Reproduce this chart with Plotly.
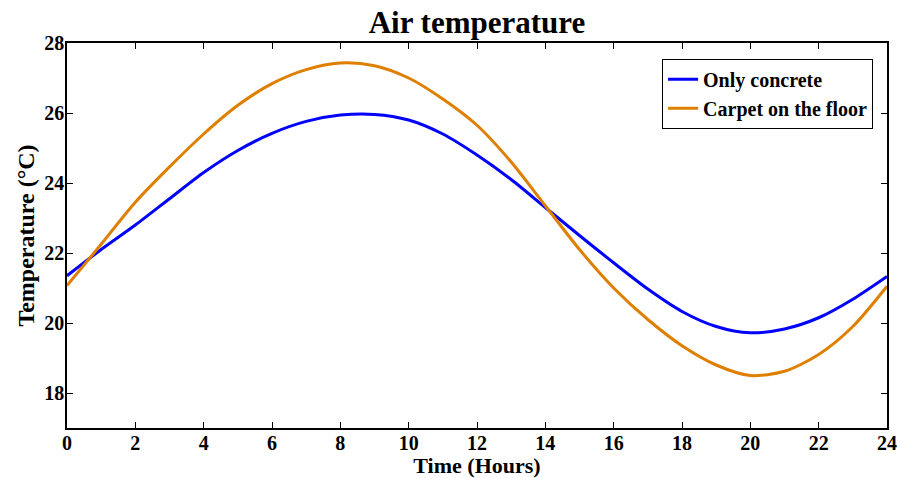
import plotly.graph_objects as go

hours = list(range(0, 25))
only_concrete = [21.35, 22.10, 22.80, 23.55, 24.30, 24.93, 25.42, 25.76, 25.94, 25.96,
                 25.80, 25.40, 24.80, 24.10, 23.30, 22.50, 21.72, 20.97, 20.33, 19.90,
                 19.72, 19.83, 20.15, 20.68, 21.33]
carpet_floor = [21.07, 22.25, 23.45, 24.46, 25.40, 26.22, 26.84, 27.24, 27.43, 27.35,
                27.00, 26.40, 25.65, 24.60, 23.35, 22.10, 21.00, 20.10, 19.35, 18.80,
                18.50, 18.62, 19.10, 19.90, 21.05]
x_ticks = list(range(0, 25, 2))
y_ticks = list(range(18, 29, 2))

font_family = "Liberation Serif"

fig = go.Figure()
fig.add_trace(go.Scatter(x=hours, y=only_concrete, mode="lines", name="Only concrete",
                         line=dict(color="#0000FF", width=3, shape="spline", smoothing=0.8)))
fig.add_trace(go.Scatter(x=hours, y=carpet_floor, mode="lines", name="Carpet on the floor",
                         line=dict(color="#DF7F00", width=3, shape="spline", smoothing=0.8)))

axis_common = dict(showline=True, linecolor="black", linewidth=1.5, mirror="ticks",
                   ticks="inside", ticklen=6, tickwidth=1, tickcolor="black",
                   showgrid=False, zeroline=False, automargin=False,
                   tickfont=dict(family=font_family, size=20, color="black", weight="bold"))

fig.update_layout(
    width=898, height=478,
    margin=dict(l=67, r=11, t=43, b=50),
    paper_bgcolor="white", plot_bgcolor="white",
    title=dict(text="<b>Air temperature</b>", xref="paper", x=0.5, xanchor="center",
               yref="container", y=0.954, yanchor="middle",
               font=dict(family=font_family, size=31, color="black")),
    xaxis=dict(range=[0, 24], tickvals=x_ticks, ticklabelstandoff=-4,
               title=dict(text="<b>Time (Hours)</b>", standoff=4,
                          font=dict(family=font_family, size=22, color="black")),
               **axis_common),
    yaxis=dict(range=[17, 28], tickvals=y_ticks, ticklabelstandoff=-3,
               title=dict(text="<b>Temperature (°C)</b>", standoff=3,
                          font=dict(family=font_family, size=24, color="black")),
               **axis_common),
    legend=dict(x=0.983, y=0.959, xanchor="right", yanchor="top",
                bgcolor="white", bordercolor="black", borderwidth=1,
                font=dict(family=font_family, size=20, color="black", weight="bold"),
                tracegroupgap=0, itemwidth=30),
    showlegend=True,
)

fig.write_html("out.html", config={"displayModeBar": False},
               post_script="document.body.style.margin='0';document.body.style.overflow='hidden';")
